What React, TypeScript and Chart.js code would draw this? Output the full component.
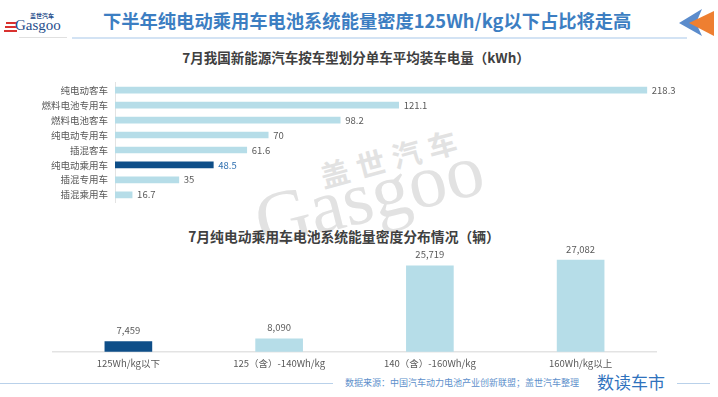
import React, { useEffect, useRef } from "react";
import { Chart, registerables } from "chart.js";

Chart.register(...registerables);

// ---------- data ----------
const vehicleTypes = [
  "纯电动客车",
  "燃料电池专用车",
  "燃料电池客车",
  "纯电动专用车",
  "插混客车",
  "纯电动乘用车",
  "插混专用车",
  "插混乘用车",
];
const avgPowerKWh = [218.3, 121.1, 98.2, 70, 61.6, 48.5, 35, 16.7];
const highlightType = "纯电动乘用车";

const densityBands = [
  "125Wh/kg以下",
  "125（含）-140Wh/kg",
  "140（含）-160Wh/kg",
  "160Wh/kg以上",
];
const densityCounts = [7459, 8090, 25719, 27082];
const highlightBand = "125Wh/kg以下";

const pageTitle = "下半年纯电动乘用车电池系统能量密度125Wh/kg以下占比将走高";
const topTitle = "7月我国新能源汽车按车型划分单车平均装车电量（kWh）";
const bottomTitle = "7月纯电动乘用车电池系统能量密度分布情况（辆）";
const sourceText = "数据来源：中国汽车动力电池产业创新联盟；盖世汽车整理";

// ---------- styles ----------
const FONT = "'Noto Sans CJK SC', 'Noto Sans', sans-serif";
const LIGHT = "#b6dde8";
const DARK = "#0e4e88";
const TEXT = "#595959";

function makeLabelPlugin(horizontal: boolean, format: (v: number) => string, colors: string[], offset: number) {
  return {
    id: "valueLabels" + (horizontal ? "H" : "V"),
    afterDatasetsDraw(chart: any) {
      const ctx = chart.ctx;
      const meta = chart.getDatasetMeta(0);
      const data = chart.data.datasets[0].data as number[];
      ctx.save();
      ctx.font = `9.5px ${FONT}`;
      ctx.textBaseline = "middle";
      meta.data.forEach((el: any, i: number) => {
        ctx.fillStyle = colors[i];
        const t = format(data[i]);
        if (horizontal) {
          ctx.textAlign = "left";
          ctx.fillText(t, el.x + offset, el.y);
        } else {
          ctx.textAlign = "center";
          ctx.fillText(t, el.x, el.y - offset);
        }
      });
      ctx.restore();
    },
  };
}

export default function App() {
  const topRef = useRef<HTMLCanvasElement>(null);
  const botRef = useRef<HTMLCanvasElement>(null);

  useEffect(() => {
    const topColors = vehicleTypes.map((t) => (t === highlightType ? DARK : LIGHT));
    const topLabelColors = vehicleTypes.map((t) => (t === highlightType ? "#2e6fb0" : TEXT));
    const top = new Chart(topRef.current!, {
      type: "bar",
      data: {
        labels: vehicleTypes,
        datasets: [{ data: avgPowerKWh, backgroundColor: topColors, barThickness: 6 }],
      },
      options: {
        indexAxis: "y",
        animation: false,
        responsive: false,
        maintainAspectRatio: false,
        layout: { padding: { top: 7.6, bottom: 7.9, left: 0, right: 41.3 } },
        plugins: { legend: { display: false }, tooltip: { enabled: false } },
        scales: {
          x: { display: false, min: 10, max: 230 },
          y: {
            afterFit(s: any) {
              s.width = 115;
            },
            grid: { display: false, drawTicks: false },
            border: { display: true, color: "#e3e3e3", width: 1 },
            ticks: { padding: 7, color: TEXT, font: { family: FONT, size: 9.5 } },
          },
        },
      } as any,
      plugins: [makeLabelPlugin(true, (v) => String(v), topLabelColors, 5)],
    });

    const botColors = densityBands.map((b) => (b === highlightBand ? DARK : LIGHT));
    const bot = new Chart(botRef.current!, {
      type: "bar",
      data: {
        labels: densityBands,
        datasets: [{ data: densityCounts, backgroundColor: botColors, barThickness: 47 }],
      },
      options: {
        animation: false,
        responsive: false,
        maintainAspectRatio: false,
        layout: { padding: { top: 8, bottom: 0, left: 53, right: 62 } },
        plugins: { legend: { display: false }, tooltip: { enabled: false } },
        scales: {
          y: { display: false, min: 5000, max: 30000 },
          x: {
            afterFit(s: any) {
              s.height = 23.3;
            },
            grid: { display: false, drawTicks: false },
            border: { display: true, color: "#e3e3e3", width: 1.5 },
            ticks: { padding: 5.5, color: TEXT, font: { family: FONT, size: 9.5 } },
          },
        },
      } as any,
      plugins: [
        makeLabelPlugin(false, (v) => v.toLocaleString("en-US"), densityBands.map(() => TEXT), 11),
      ],
    });

    return () => {
      top.destroy();
      bot.destroy();
    };
  }, []);

  const abs = (s: React.CSSProperties): React.CSSProperties => ({ position: "absolute", ...s });

  return (
    <div
      style={abs({
        left: 0,
        top: 0,
        width: 718,
        height: 397,
        background: "#ffffff",
        overflow: "hidden",
        fontFamily: FONT,
      })}
    >
      {/* watermark */}
      <div
        style={abs({
          left: 316,
          top: 159,
          fontSize: 29,
          fontWeight: 700,
          letterSpacing: 8,
          color: "#e2e2e2",
          transform: "rotate(-15deg)",
          transformOrigin: "left top",
          whiteSpace: "nowrap",
          lineHeight: "34px",
          zIndex: 0,
        })}
      >
        盖世汽车
      </div>
      <div
        style={abs({
          left: 246,
          top: 182,
          fontSize: 76,
          fontFamily: "'Liberation Serif', 'DejaVu Serif', serif",
          color: "#e2e2e2",
          transform: "rotate(-14deg)",
          transformOrigin: "left top",
          whiteSpace: "nowrap",
          lineHeight: "84px",
          zIndex: 0,
        })}
      >
        Gasgoo
      </div>

      {/* header logo */}
      <div style={abs({ left: 6, top: 22, width: 11, height: 2, background: "#d9322f" })} />
      <div style={abs({ left: 5, top: 26, width: 12, height: 2, background: "#d9322f" })} />
      <div style={abs({ left: 4, top: 30, width: 13, height: 1.5, background: "#d9322f" })} />
      <div style={abs({ left: 30, top: 12, fontSize: 6, color: "#1f4e8c", fontWeight: 700, lineHeight: "7px", whiteSpace: "nowrap" })}>
        盖世汽车
      </div>
      <div
        style={abs({
          left: 15,
          top: 17,
          fontSize: 15,
          color: "#1f4e8c",
          fontFamily: "'Liberation Serif', 'DejaVu Serif', serif",
          lineHeight: "16px",
          whiteSpace: "nowrap",
        })}
      >
        Gasgoo
      </div>
      <div style={abs({ left: 19, top: 37, width: 48, height: 1, background: "#e0e0e0" })} />

      {/* header title */}
      <div
        style={abs({
          left: 103,
          top: 8,
          fontSize: 18.3,
          lineHeight: "24px",
          fontWeight: 700,
          color: "#3c7ec2",
          whiteSpace: "nowrap",
        })}
      >
        {pageTitle}
      </div>
      <div style={abs({ left: 72, top: 37, width: 615, height: 2, background: "#d3e3f4" })} />

      {/* header arrow */}
      <svg style={abs({ left: 676, top: 6, zIndex: 1 })} width={42} height={32}>
        <polygon points="3,17 26,3 20,17 26,30" fill="#5b8ccc" />
        <polygon points="13,17 38,5 38,30" fill="#ee7f31" />
      </svg>

      {/* chart titles */}
      <div
        style={abs({
          left: 356,
          top: 48,
          transform: "translateX(-50%)",
          fontSize: 13.5,
          lineHeight: "18px",
          fontWeight: 700,
          color: "#404040",
          whiteSpace: "nowrap",
          zIndex: 1,
        })}
      >
        {topTitle}
      </div>
      <div
        style={abs({
          left: 344,
          top: 227,
          transform: "translateX(-50%)",
          fontSize: 13.8,
          lineHeight: "18px",
          fontWeight: 700,
          color: "#404040",
          whiteSpace: "nowrap",
          zIndex: 1,
        })}
      >
        {bottomTitle}
      </div>

      {/* charts */}
      <canvas ref={topRef} width={718} height={145} style={abs({ left: 0, top: 70, zIndex: 1 })} />
      <canvas ref={botRef} width={718} height={135} style={abs({ left: 0, top: 240, zIndex: 1 })} />

      {/* footer */}
      <div style={abs({ left: 0, top: 383, width: 333, height: 1, background: "#b9d1ea" })} />
      <div
        style={abs({
          left: 345,
          top: 376,
          fontSize: 9,
          lineHeight: "14px",
          color: "#5d8fcb",
          whiteSpace: "nowrap",
        })}
      >
        {sourceText}
      </div>
      <div
        style={abs({
          left: 597,
          top: 370,
          fontSize: 17,
          lineHeight: "24px",
          color: "#2f72bd",
          whiteSpace: "nowrap",
        })}
      >
        数读车市
      </div>
      <div style={abs({ left: 677, top: 383, width: 33, height: 1, background: "#b9d1ea" })} />
    </div>
  );
}
